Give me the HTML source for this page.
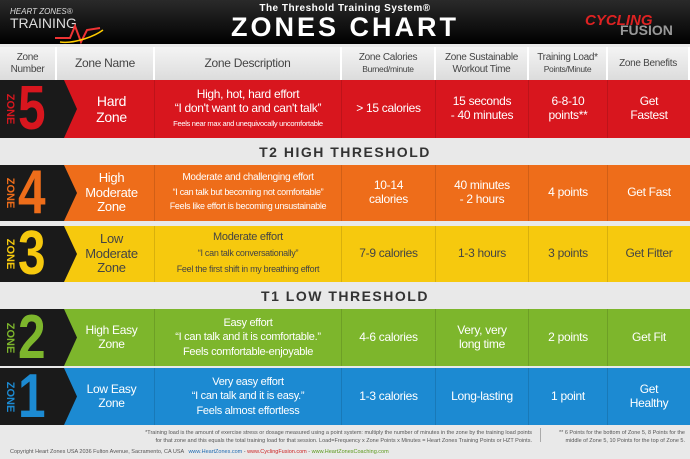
<!DOCTYPE html>
<html><head><meta charset="utf-8"><style>
*{margin:0;padding:0;box-sizing:border-box}
body{width:690px;height:459px;background:#e9e9e9;font-family:"Liberation Sans",sans-serif;position:relative;overflow:hidden}
.hdr{position:absolute;left:0;top:0;width:690px;height:44px;background:linear-gradient(#2a2a2a,#000)}
.row{position:absolute;left:0;width:690px;display:flex}
.c{display:flex;align-items:center;justify-content:center;text-align:center;border-right:1px solid rgba(0,0,0,.12);line-height:1.15;font-size:12px;color:#fff;letter-spacing:-.3px}
.c>div{width:100%}
.w0{width:57px;border:none}.w1{width:98px}.w2{width:187px}.w3{width:94px}.w4{width:93px}.w5{width:79px}.w6{width:82px;border:none}
.th .c{color:#444;font-size:10px;border-right:2px solid #fff}
.band{position:absolute;left:0;width:690px;height:26px;text-align:center;font-size:14px;font-weight:bold;color:#333;letter-spacing:1.5px;line-height:26px}
.zn{position:absolute;left:0;width:77px;background:#1a1a1a;clip-path:polygon(0 0,64px 0,77px 50%,64px 100%,0 100%)}
.zn .z{position:absolute;left:4px;top:50%;transform:translateY(-50%);writing-mode:vertical-rl;font-size:11px;font-weight:bold;line-height:12px;letter-spacing:0}
.zn .n{position:absolute;left:18px;top:50%;transform:translateY(-50%) scaleX(.8);transform-origin:left center;font-size:62px;line-height:62px;font-weight:bold}
.sm{font-size:8.5px}
.b{font-size:12px}
</style></head><body>
<div class="hdr"></div>
<div style="position:absolute;left:10px;top:7px;color:#ddd;font-size:8px;font-style:italic">HEART ZONES®</div>
<div style="position:absolute;left:10px;top:15px;color:#ddd;font-size:14px">TRAINING</div>
<svg style="position:absolute;left:55px;top:18px" width="50" height="26"><path d="M0 20 L15 20 L20 8 L26 24 L32 12 L45 10" stroke="#e33" stroke-width="2" fill="none"/><path d="M5 24 C20 26 40 18 48 12" stroke="#fc0" stroke-width="1.5" fill="none"/></svg>
<div style="position:absolute;left:0;width:690px;top:3px;text-align:center;color:#fff;font-size:10px;font-weight:bold;letter-spacing:.5px">The Threshold Training System®</div>
<div style="position:absolute;left:0;width:690px;top:12px;text-align:center;color:#fff;font-size:27px;font-weight:bold;letter-spacing:3px">ZONES CHART</div>
<div style="position:absolute;left:585px;top:12px;color:#d22;font-size:15px;font-weight:bold;font-style:italic">CYCLING</div>
<div style="position:absolute;left:620px;top:22px;color:#999;font-size:14px;font-weight:bold">FUSION</div>

<div class="row th" style="top:47px;height:33px;background:linear-gradient(#f4f4f4,#dcdcdc)">
<div class="c w0"><div>Zone<br>Number</div></div><div class="c w1"><div style="font-size:12px">Zone Name</div></div><div class="c w2"><div style="font-size:12px">Zone Description</div></div><div class="c w3"><div>Zone Calories<br><span class="sm">Burned/minute</span></div></div><div class="c w4"><div>Zone Sustainable<br>Workout Time</div></div><div class="c w5"><div>Training Load*<br><span class="sm">Points/Minute</span></div></div><div class="c w6"><div>Zone Benefits</div></div></div>

<div class="row" style="top:80px;height:58px;background:#d8161e">
<div class="c w0"></div><div class="c w1"><div style="font-size:14px;padding-left:12px">Hard<br>Zone</div></div><div class="c w2"><div style="font-size:12px">High, hot, hard effort<br>“I don't want to and can't talk”<br><span style="font-size:7.5px">Feels near max and unequivocally uncomfortable</span></div></div><div class="c w3"><div class="b">&gt; 15 calories</div></div><div class="c w4"><div class="b">15 seconds<br>- 40 minutes</div></div><div class="c w5"><div class="b">6-8-10<br>points**</div></div><div class="c w6"><div class="b">Get<br>Fastest</div></div></div>
<div class="zn" style="top:80px;height:58px"><span class="z" style="color:#d8161e">ZONE</span><span class="n" style="color:#d8161e">5</span></div>

<div class="band" style="top:139px">T2 HIGH THRESHOLD</div>

<div class="row" style="top:165px;height:56px;background:#ee6d1a">
<div class="c w0"></div><div class="c w1"><div style="font-size:13px;padding-left:12px">High<br>Moderate<br>Zone</div></div><div class="c w2"><div style="font-size:10px;line-height:1.45">Moderate and challenging effort<br><span style="font-size:9px">“I can talk but becoming not comfortable”<br>Feels like effort is becoming unsustainable</span></div></div><div class="c w3"><div class="b">10-14<br>calories</div></div><div class="c w4"><div class="b">40 minutes<br>- 2 hours</div></div><div class="c w5"><div class="b">4 points</div></div><div class="c w6"><div class="b">Get Fast</div></div></div>
<div class="zn" style="top:165px;height:56px"><span class="z" style="color:#ee6d1a">ZONE</span><span class="n" style="color:#ee6d1a">4</span></div>

<div class="row" style="top:226px;height:56px;background:#f6c90e">
<div class="c w0"></div><div class="c w1"><div style="font-size:13px;padding-left:12px;color:#444">Low<br>Moderate<br>Zone</div></div><div class="c w2"><div style="font-size:11px;line-height:1.45;color:#444">Moderate effort<br><span style="font-size:9px">“I can talk conversationally”<br>Feel the first shift in my breathing effort</span></div></div><div class="c w3"><div class="b" style="color:#444">7-9 calories</div></div><div class="c w4"><div class="b" style="color:#444">1-3 hours</div></div><div class="c w5"><div class="b" style="color:#444">3 points</div></div><div class="c w6"><div class="b" style="color:#444">Get Fitter</div></div></div>
<div class="zn" style="top:226px;height:56px"><span class="z" style="color:#f6c90e">ZONE</span><span class="n" style="color:#f6c90e">3</span></div>

<div class="band" style="top:283px">T1 LOW THRESHOLD</div>

<div class="row" style="top:309px;height:57px;background:#7db62c">
<div class="c w0"></div><div class="c w1"><div style="font-size:12px;padding-left:12px">High Easy<br>Zone</div></div><div class="c w2"><div style="font-size:11px;line-height:1.3">Easy effort<br>“I can talk and it is comfortable.”<br>Feels comfortable-enjoyable</div></div><div class="c w3"><div class="b">4-6 calories</div></div><div class="c w4"><div class="b">Very, very<br>long time</div></div><div class="c w5"><div class="b">2 points</div></div><div class="c w6"><div class="b">Get Fit</div></div></div>
<div class="zn" style="top:309px;height:57px"><span class="z" style="color:#7db62c">ZONE</span><span class="n" style="color:#7db62c">2</span></div>

<div class="row" style="top:368px;height:57px;background:#1c8ad2">
<div class="c w0"></div><div class="c w1"><div style="font-size:12px;padding-left:12px">Low Easy<br>Zone</div></div><div class="c w2"><div style="font-size:11px;line-height:1.3">Very easy effort<br>“I can talk and it is easy.”<br>Feels almost effortless</div></div><div class="c w3"><div class="b">1-3 calories</div></div><div class="c w4"><div class="b">Long-lasting</div></div><div class="c w5"><div class="b">1 point</div></div><div class="c w6"><div class="b">Get<br>Healthy</div></div></div>
<div class="zn" style="top:368px;height:57px"><span class="z" style="color:#1c8ad2">ZONE</span><span class="n" style="color:#1c8ad2">1</span></div>

<div style="position:absolute;left:100px;width:432px;top:430px;text-align:right;font-size:5.5px;color:#555;line-height:1.4">*Training load is the amount of exercise stress or dosage measured using a point system: multiply the number of minutes in the zone by the training load points<br>for that zone and this equals the total training load for that session. Load=Frequency x Zone Points x Minutes = Heart Zones Training Points or HZT Points.</div>
<div style="position:absolute;left:540px;top:428px;width:1px;height:14px;background:#aaa"></div>
<div style="position:absolute;left:545px;width:140px;top:430px;text-align:right;font-size:5.5px;color:#555;line-height:1.4">** 6 Points for the bottom of Zone 5, 8 Points for the<br>middle of Zone 5, 10 Points for the top of Zone 5.</div>
<div style="position:absolute;left:10px;top:449px;font-size:5.5px;color:#555">Copyright Heart Zones USA 2036 Fulton Avenue, Sacramento, CA USA &nbsp; <span style="color:#1c6ab2">www.HeartZones.com</span> - <span style="color:#c22">www.CyclingFusion.com</span> - <span style="color:#5a9a1a">www.HeartZonesCoaching.com</span></div>
</body></html>
